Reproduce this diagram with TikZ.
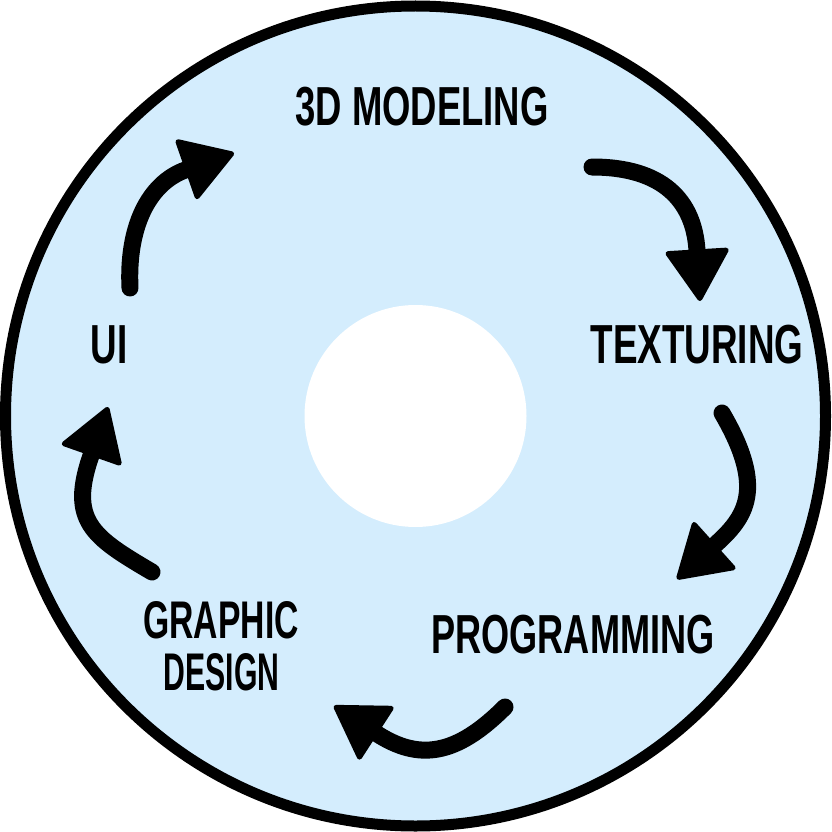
\documentclass[tikz,border=0pt]{standalone}
\usepackage{fontspec}
\setmainfont{Liberation Sans}
\usetikzlibrary{arrows.meta}
\definecolor{discblue}{RGB}{212,237,253}
% condensed caption text
\newcommand{\narrowtext}[2]{\scalebox{#1}[1]{#2}}
\begin{document}
\begin{tikzpicture}[x=1pt,y=-1pt,
  stagetext/.style={font=\bfseries\fontsize{55}{52}\selectfont, inner sep=0pt, anchor=base},
  flow/.style={line width=17pt, line cap=round,
    -{Triangle[length=54pt,width=66pt,round,line width=5pt]}}]
\useasboundingbox (0,0) rectangle (831,832);

% disc
\fill[discblue] (415.5,416) circle[radius=410];
\draw[line width=11pt] (415.5,416) circle[radius=410];
\fill[white] (415.5,416) circle[radius=111];

% stages
\node[stagetext] (model) at (422,125) {\narrowtext{0.663}{3D MODELING}};
\node[stagetext] (tex) at (697,363) {\narrowtext{0.67}{TEXTURING}};
\node[stagetext] (prog) at (573,653) {\narrowtext{0.657}{PROGRAMMING}};
\node[stagetext, font=\bfseries\fontsize{53}{52}\selectfont] (gfx1) at (221,638) {\narrowtext{0.636}{GRAPHIC}};
\node[stagetext, font=\bfseries\fontsize{53}{52}\selectfont] (gfx2) at (221.5,690) {\narrowtext{0.57}{DESIGN}};
\node[stagetext] (ui) at (109,363) {\narrowtext{0.67}{UI}};

% arrow ends
\coordinate (a1s) at (592,167);  \coordinate (a1e) at (700,301);
\coordinate (a2s) at (722,413);  \coordinate (a2e) at (677,579);
\coordinate (a3s) at (505,707);  \coordinate (a3e) at (334,706);
\coordinate (a4s) at (152,572);  \coordinate (a4e) at (108,407);
\coordinate (a5s) at (130,288);  \coordinate (a5e) at (234,153);

% cycle arrows
\draw[flow] (a1s) .. controls (662,167) and (694,200) .. (a1e);
\draw[flow] (a2s) .. controls (767,490) and (745,518) .. (a2e);
\draw[flow] (a3s) .. controls (456,756) and (419,761) .. (a3e);
\draw[flow] (a4s) .. controls (92.5,537) and (68,521) .. (a4e);
\draw[flow] (a5s) .. controls (127,228) and (148,183) .. (a5e);
\end{tikzpicture}
\end{document}
